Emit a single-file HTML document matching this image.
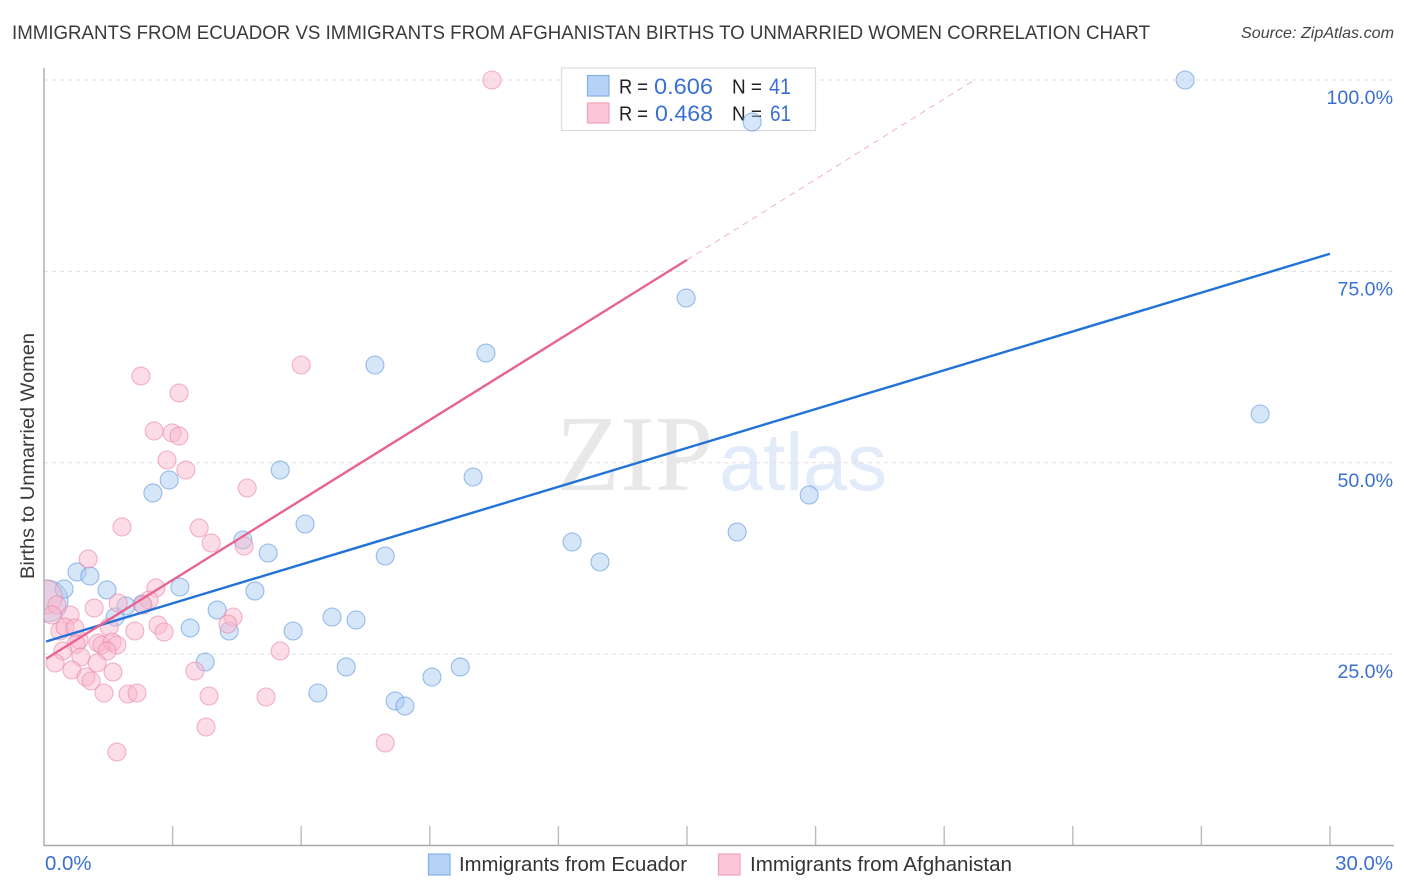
<!DOCTYPE html>
<html lang="en">
<head>
<meta charset="utf-8">
<title>Immigrants from Ecuador vs Immigrants from Afghanistan Births to Unmarried Women Correlation Chart</title>
<style>
html,body{margin:0;padding:0;background:#fff;width:1406px;height:892px;overflow:hidden}
svg{display:block;font-family:"Liberation Sans",sans-serif}
</style>
</head>
<body>
<svg id="chart" xmlns="http://www.w3.org/2000/svg" width="1406" height="892" viewBox="0 0 1406 892">
  <defs>
    <clipPath id="plot-clip"><rect x="44.5" y="60" width="1350" height="786"/></clipPath>
  </defs>
  <rect x="0" y="0" width="1406" height="892" fill="#fff"/>
  <text x="12" y="39" font-size="19.6" fill="#3a3a3a" textLength="1138" lengthAdjust="spacingAndGlyphs">IMMIGRANTS FROM ECUADOR VS IMMIGRANTS FROM AFGHANISTAN BIRTHS TO UNMARRIED WOMEN CORRELATION CHART</text>
  <text x="1241" y="38" font-size="15.6" font-style="italic" fill="#444" textLength="153" lengthAdjust="spacingAndGlyphs">Source: ZipAtlas.com</text>
  <g>
    <text x="556" y="490" font-family="'Liberation Serif',serif" font-size="108" fill="#e8e8e8" textLength="157" lengthAdjust="spacingAndGlyphs">ZIP</text>
    <text x="719" y="490" font-size="82" fill="#e2ebf9" textLength="168" lengthAdjust="spacingAndGlyphs">atlas</text>
  </g>
  <g id="grid"></g>
  <g id="ticks"></g>
  <line x1="44" y1="68" x2="44" y2="846" stroke="#aaa" stroke-width="1.4"/>
  <line x1="44" y1="845.5" x2="1394" y2="845.5" stroke="#aaa" stroke-width="1.4"/>
  <text transform="translate(34,456) rotate(-90)" font-size="19.4" fill="#3a3a3a" text-anchor="middle" textLength="246" lengthAdjust="spacingAndGlyphs">Births to Unmarried Women</text>
  <g id="ylabels"></g>
  <g id="xlabels"></g>

  <g>
    <rect x="561.5" y="68" width="254" height="62.5" fill="#fff" stroke="#d9dbe3" stroke-width="1.2"/>
    <rect x="587.5" y="75.5" width="21.5" height="20.5" fill="#b6d2f6" stroke="#86b0e6" stroke-width="1.2"/>
    <rect x="587.5" y="103" width="21.5" height="20" fill="#fcc6d8" stroke="#f0a4bd" stroke-width="1.2"/>
    <g font-size="20" fill="#222">
      <text x="619" y="93.5" textLength="29" lengthAdjust="spacingAndGlyphs">R =</text>
      <text x="732" y="93.5" textLength="30" lengthAdjust="spacingAndGlyphs">N =</text>
      <text x="619" y="120.5" textLength="29" lengthAdjust="spacingAndGlyphs">R =</text>
      <text x="732" y="120.5" textLength="30" lengthAdjust="spacingAndGlyphs">N =</text>
    </g>
    <g font-size="22" fill="#3a70d2">
      <text x="654" y="94" textLength="59" lengthAdjust="spacingAndGlyphs">0.606</text>
      <text x="769" y="94" textLength="22" lengthAdjust="spacingAndGlyphs">41</text>
      <text x="655" y="121" textLength="58" lengthAdjust="spacingAndGlyphs">0.468</text>
      <text x="770" y="121" textLength="21" lengthAdjust="spacingAndGlyphs">61</text>
    </g>
  </g>

  <g id="marks" clip-path="url(#plot-clip)"></g>

  <g>
    <rect x="428.5" y="854" width="21.5" height="21" fill="#b6d2f6" stroke="#86b0e6" stroke-width="1.2"/>
    <text x="459" y="871" font-size="20" fill="#333" textLength="228" lengthAdjust="spacingAndGlyphs">Immigrants from Ecuador</text>
    <rect x="718.5" y="854" width="21.5" height="21" fill="#fcc6d8" stroke="#f0a4bd" stroke-width="1.2"/>
    <text x="750" y="871" font-size="20" fill="#333" textLength="262" lengthAdjust="spacingAndGlyphs">Immigrants from Afghanistan</text>
  </g>
</svg>
<script>
var xTicks = [0, 3, 6, 9, 12, 15, 18, 21, 24, 27, 30];
var yGrid = [25, 50, 75, 100];
var yTickLabels = ["25.0%", "50.0%", "75.0%", "100.0%"];
var xTickLabels = ["0.0%", "30.0%"];
var xLabelValues = [0, 30];

var ecuadorX = [26.62,16.52,14.98,10.31,7.72,28.37,10.01,5.51,2.92,2.54,17.85,16.17,6.09,4.64,5.23,12.32,12.97,7.96,0.77,1.07,0.47,1.47,3.17,4.92,2.29,1.91,4.04,1.66,6.72,7.28,3.41,4.32,5.81,3.76,7.05,9.71,9.05,6.39,8.19,8.42];
var ecuadorY = [100,94.51,71.52,64.33,62.77,56.37,48.14,49.05,47.75,46.05,45.79,40.95,42,39.91,38.21,39.65,37.03,37.82,35.73,35.2,33.51,33.38,33.77,33.25,31.55,31.29,30.76,29.85,29.85,29.46,28.41,28.02,28.02,23.97,23.32,23.32,22.01,19.92,18.88,18.22];
var ecuadorClusterX = [0.07];
var ecuadorClusterY = [31.94];

var afghanX = [10.45,6,2.26,3.15,2.57,2.99,3.15,2.87,3.31,4.74,1.82,3.62,3.9,4.67,1.03,2.61,2.45,1.73,1.17,2.31,0.61,4.41,4.29,2.66,2.8,2.12,1.52,0.37,0.49,0.72,0.82,0.75,1.26,1.35,1.59,1.7,1.47,0.44,0.86,0.26,1.24,0.65,1.61,0.98,1.1,1.4,1.96,2.17,3.52,3.85,5.18,3.78,1.7,5.51,7.96,0.3,0.19];
var afghanY = [100,62.77,61.33,59.11,54.15,53.89,53.49,50.36,49.05,46.7,41.61,41.48,39.52,39.12,37.43,33.64,32.07,31.68,31.02,31.42,30.11,29.85,28.93,28.8,27.89,28.02,28.54,28.02,28.54,28.41,26.84,26.32,26.45,26.19,26.58,26.19,25.41,25.41,24.62,23.84,23.84,22.93,22.66,22.01,21.49,19.92,19.79,19.92,22.79,19.53,19.4,15.48,12.21,25.41,13.39,31.42,30.11];
var afghanClusterX = [0.03];
var afghanClusterY = [32.46];

var ecuadorTrendX = [0.05, 30];
var ecuadorTrendY = [26.65, 77.3];
var afghanTrendX = [0.05, 15];
var afghanTrendY = [24.4, 76.5];
var afghanDashX = [15, 21.7];
var afghanDashY = [76.5, 100];

var NS = 'http://www.w3.org/2000/svg';
function sx(v) { return 44 + v * (1330 - 44) / 30; }
function sy(v) { return 845.5 - v * (845.5 - 80) / 100; }
function make(tag, parent, attrs) {
  var el = document.createElementNS(NS, tag);
  for (var k in attrs) { el.setAttribute(k, attrs[k]); }
  parent.appendChild(el);
  return el;
}

var grid = document.getElementById('grid');
yGrid.forEach(function (v) {
  var el = make('line', grid, { x1: 44, x2: 1394, y1: sy(v), y2: sy(v), stroke: '#e0e0e0', 'stroke-width': 1, 'stroke-dasharray': '4 4' });
  
  
});

var ticks = document.getElementById('ticks');
xTicks.forEach(function (v, i) {
  if (i === 0) { return; }
  var el = make('line', ticks, { x1: sx(v), x2: sx(v), y1: 826, y2: 846, stroke: '#bbb', 'stroke-width': 1.4 });
  
  
});

var ylabels = document.getElementById('ylabels');
yGrid.forEach(function (v, i) {
  var el = make('text', ylabels, { x: 1393, y: sy(v) + 24, 'font-size': 19.6, fill: '#3a70d2', 'text-anchor': 'end' });
  
  
  el.textContent = yTickLabels[i];
});

var xlabels = document.getElementById('xlabels');
xLabelValues.forEach(function (v, i) {
  var el = make('text', xlabels, { x: i === 0 ? sx(v) + 1 : 1393, y: 870, 'font-size': 20.4, fill: '#3a70d2', 'text-anchor': i === 0 ? 'start' : 'end' });
  
  
  el.textContent = xTickLabels[i];
});

var marks = document.getElementById('marks');
var BLUE = { fill: '#a9caf3', stroke: '#5b95e0' };
var PINK = { fill: '#f9b6cb', stroke: '#e886a8' };

function dots(xs, ys, color, r, name) {
  xs.forEach(function (v, i) {
    var el = make('circle', marks, { cx: sx(v), cy: sy(ys[i]), r: r, fill: color.fill, 'fill-opacity': 0.48, stroke: color.stroke, 'stroke-opacity': 0.6, 'stroke-width': 1.1 });
    
    
  });
}
function trend(xs, ys, color, width, dash, name) {
  var attrs = { x1: sx(xs[0]), y1: sy(ys[0]), x2: sx(xs[1]), y2: sy(ys[1]), stroke: color, 'stroke-width': width };
  if (dash) { attrs['stroke-dasharray'] = dash; }
  var el = make('line', marks, attrs);
  
  
}

dots(ecuadorClusterX, ecuadorClusterY, BLUE, 21, 'ecuador-cluster-point');
dots(ecuadorX, ecuadorY, BLUE, 9, 'ecuador-point');
dots(afghanClusterX, afghanClusterY, PINK, 17, 'afghanistan-cluster-point');
dots(afghanX, afghanY, PINK, 9, 'afghanistan-point');
trend(ecuadorTrendX, ecuadorTrendY, '#2272d8', 2.4, null, 'ecuador-trend-line');
trend(afghanTrendX, afghanTrendY, '#e8638f', 2.4, null, 'afghanistan-trend-line');
trend(afghanDashX, afghanDashY, '#efb3c6', 1, '6 5', 'afghanistan-trend-extension');
</script>
</body>
</html>
